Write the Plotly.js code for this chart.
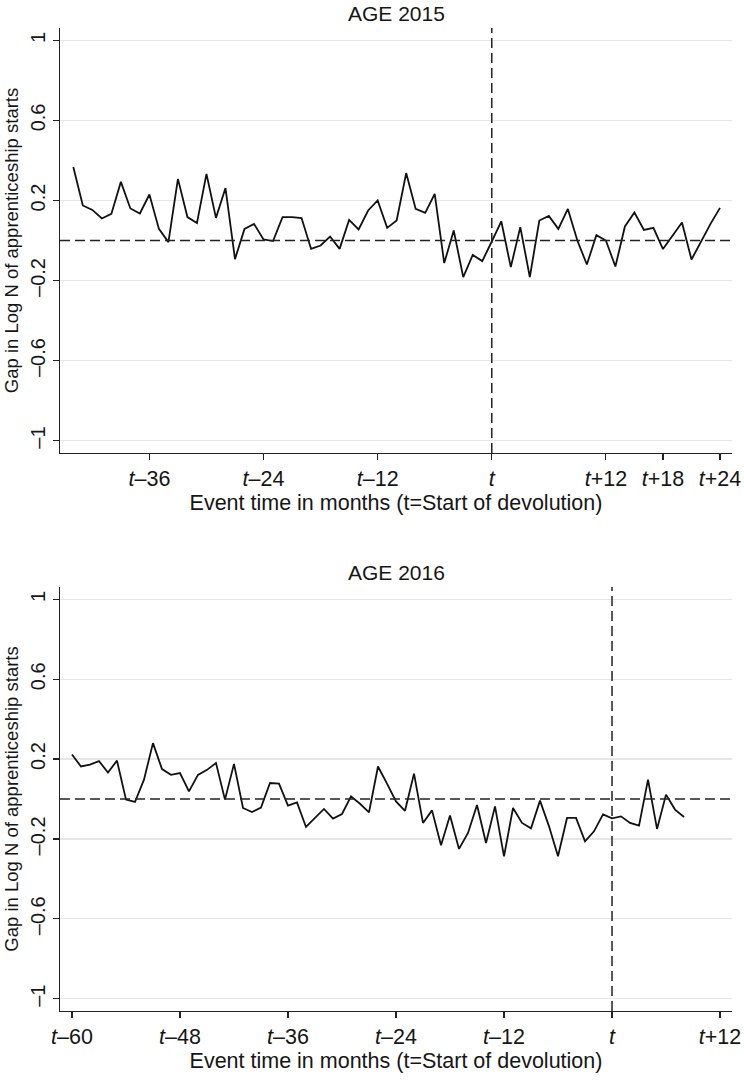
<!DOCTYPE html>
<html><head><meta charset="utf-8">
<script src="https://cdn.plot.ly/plotly-3.0.1.min.js"></script>
<style>html,body{margin:0;padding:0;background:#fff}</style>
</head><body><div id="chart" style="width:744px;height:1080px"></div>
<script>
// Event time (months relative to start of devolution)
const months2015 = [-44,-43,-42,-41,-40,-39,-38,-37,-36,-35,-34,-33,-32,-31,-30,-29,-28,-27,-26,-25,-24,-23,-22,-21,-20,-19,-18,-17,-16,-15,-14,-13,-12,-11,-10,-9,-8,-7,-6,-5,-4,-3,-2,-1,0,1,2,3,4,5,6,7,8,9,10,11,12,13,14,15,16,17,18,19,20,21,22,23,24];
const gap2015 = [0.367,0.175,0.153,0.110,0.133,0.293,0.160,0.135,0.230,0.058,-0.008,0.308,0.117,0.087,0.333,0.113,0.262,-0.093,0.058,0.083,0.005,-0.003,0.117,0.117,0.112,-0.042,-0.025,0.020,-0.042,0.103,0.055,0.150,0.200,0.063,0.100,0.337,0.158,0.138,0.233,-0.113,0.050,-0.183,-0.072,-0.103,-0.005,0.096,-0.133,0.067,-0.183,0.100,0.123,0.058,0.158,0.000,-0.120,0.027,0.000,-0.130,0.070,0.140,0.053,0.063,-0.043,0.025,0.090,-0.095,-0.005,0.083,0.163];

const months2016 = [-60,-59,-58,-57,-56,-55,-54,-53,-52,-51,-50,-49,-48,-47,-46,-45,-44,-43,-42,-41,-40,-39,-38,-37,-36,-35,-34,-33,-32,-31,-30,-29,-28,-27,-26,-25,-24,-23,-22,-21,-20,-19,-18,-17,-16,-15,-14,-13,-12,-11,-10,-9,-8,-7,-6,-5,-4,-3,-2,-1,0,1,2,3,4,5,6,7,8];
const gap2016 = [0.223,0.163,0.172,0.190,0.133,0.192,-0.003,-0.015,0.097,0.280,0.150,0.121,0.130,0.038,0.121,0.146,0.180,-0.003,0.176,-0.045,-0.065,-0.043,0.080,0.077,-0.033,-0.017,-0.140,-0.095,-0.050,-0.098,-0.075,0.013,-0.024,-0.067,0.163,0.077,-0.012,-0.059,0.127,-0.120,-0.057,-0.232,-0.083,-0.250,-0.170,-0.030,-0.220,-0.037,-0.287,-0.045,-0.120,-0.147,-0.008,-0.137,-0.287,-0.095,-0.095,-0.212,-0.162,-0.077,-0.097,-0.087,-0.120,-0.133,0.097,-0.150,0.022,-0.053,-0.090];

const xTicks2015 = [-36,-24,-12,0,12,18,24];
const xTickText2015 = ['<i>t</i>–36','<i>t</i>–24','<i>t</i>–12','<i>t</i>','<i>t</i>+12','<i>t</i>+18','<i>t</i>+24'];
const xTicks2016 = [-60,-48,-36,-24,-12,0,12];
const xTickText2016 = ['<i>t</i>–60','<i>t</i>–48','<i>t</i>–36','<i>t</i>–24','<i>t</i>–12','<i>t</i>','<i>t</i>+12'];
const yTicks = [-1,-0.6,-0.2,0.2,0.6,1];
const yTickText = ['–1','–0.6','–0.2','0.2','0.6','1'];

const panelTitles = ['AGE 2015','AGE 2016'];
const xTitle = 'Event time in months (t=Start of devolution)';
const yTitle = 'Gap in Log N of apprenticeship starts';

const FONT = 'Liberation Sans, Arial, Helvetica, sans-serif';
const TXT = '#161616';

const traces = [
  {x: months2015, y: gap2015, type:'scatter', mode:'lines', xaxis:'x', yaxis:'y',
   line:{color:'#111', width:1.8}, hoverinfo:'skip'},
  {x: months2016, y: gap2016, type:'scatter', mode:'lines', xaxis:'x2', yaxis:'y2',
   line:{color:'#111', width:1.8}, hoverinfo:'skip'}
];

function xAxis(range, vals, text, anchor){
  return {anchor: anchor, domain:[0,1], range: range, tickmode:'array', tickvals: vals, ticktext: text,
    showline:true, linecolor:'#222', linewidth:1.2, ticks:'outside', ticklen:6, tickwidth:1.2, tickcolor:'#222',
    showgrid:false, zeroline:false, automargin:false,
    tickfont:{family:FONT, size:21.5, color:TXT},
    title:{text:xTitle, font:{family:FONT, size:21.5, color:TXT}, standoff:2}};
}
function yAxis(domain, anchor){
  return {anchor: anchor, domain: domain, range:[-1.062,1.062], tickmode:'array', tickvals: yTicks, ticktext: yTickText,
    tickangle:-90, showline:true, linecolor:'#222', linewidth:1.2, ticks:'outside', ticklen:6, tickwidth:1.2, tickcolor:'#222',
    showgrid:true, gridcolor:'#e6e6e6', gridwidth:1.2, zeroline:false, automargin:false,
    tickfont:{family:FONT, size:20, color:TXT},
    title:{text:yTitle, font:{family:FONT, size:18.5, color:TXT}, standoff:3}};
}

const H = 1080;
const dash = {color:'#222', width:1.5, dash:'10px,5px'};
const layout = {
  width:744, height:H, paper_bgcolor:'#fff', plot_bgcolor:'#fff', showlegend:false,
  margin:{l:60, r:12, t:0, b:0},
  xaxis: xAxis([-45.4, 25.26], xTicks2015, xTickText2015, 'y'),
  yaxis: yAxis([1-453/H, 1-28/H], 'x'),
  xaxis2: xAxis([-61.33, 13.33], xTicks2016, xTickText2016, 'y2'),
  yaxis2: yAxis([1-1011/H, 1-587/H], 'x2'),
  shapes: [
    {type:'line', xref:'x domain', yref:'y', x0:0, x1:1, y0:0, y1:0, line:dash},
    {type:'line', xref:'x', yref:'y domain', x0:0, x1:0, y0:0, y1:1, line:dash},
    {type:'line', xref:'x2 domain', yref:'y2', x0:0, x1:1, y0:0, y1:0, line:dash},
    {type:'line', xref:'x2', yref:'y2 domain', x0:0, x1:0, y0:0, y1:1, line:dash}
  ],
  annotations: [
    {text: panelTitles[0], xref:'paper', yref:'paper', x:0.5, y:1-13/H, xanchor:'center', yanchor:'middle', showarrow:false,
     font:{family:FONT, size:21, color:TXT}},
    {text: panelTitles[1], xref:'paper', yref:'paper', x:0.5, y:1-572/H, xanchor:'center', yanchor:'middle', showarrow:false,
     font:{family:FONT, size:21, color:TXT}}
  ]
};

Plotly.newPlot('chart', traces, layout, {displayModeBar:false, staticPlot:true});
</script></body></html>
